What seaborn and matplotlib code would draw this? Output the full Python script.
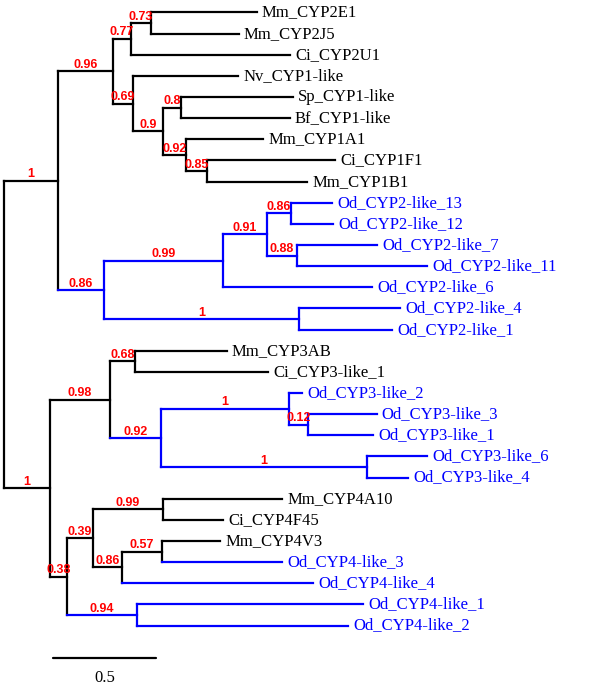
import matplotlib
matplotlib.use("Agg")
import matplotlib.pyplot as plt
import numpy as np
import pandas as pd
import seaborn as sns

# ---------------- tree data (parallel lists, children in drawing order) ----------------
names = [
    "root",
    "nA", "nB", "nC", "nD", "Mm_CYP2E1", "Mm_CYP2J5", "Ci_CYP2U1",
    "nE", "Nv_CYP1-like", "nF", "nFs", "Sp_CYP1-like", "Bf_CYP1-like",
    "nG", "Mm_CYP1A1", "nG2", "Ci_CYP1F1", "Mm_CYP1B1",
    "nH", "nI", "nJ", "nK", "Od_CYP2-like_13", "Od_CYP2-like_12",
    "nL", "Od_CYP2-like_7", "Od_CYP2-like_11", "Od_CYP2-like_6",
    "nM", "Od_CYP2-like_4", "Od_CYP2-like_1",
    "nN", "nO", "nP", "Mm_CYP3AB", "Ci_CYP3-like_1",
    "nQ", "nR", "Od_CYP3-like_2", "nS", "Od_CYP3-like_3", "Od_CYP3-like_1",
    "nT", "Od_CYP3-like_6", "Od_CYP3-like_4",
    "nU", "nV", "nW", "Mm_CYP4A10", "Ci_CYP4F45",
    "nX", "nY", "Mm_CYP4V3", "Od_CYP4-like_3", "Od_CYP4-like_4",
    "nZ", "Od_CYP4-like_1", "Od_CYP4-like_2",
]
parents = [
    None,
    "root", "nA", "nB", "nC", "nD", "nD", "nC",
    "nB", "nE", "nE", "nF", "nFs", "nFs",
    "nF", "nG", "nG", "nG2", "nG2",
    "nA", "nH", "nI", "nJ", "nK", "nK",
    "nJ", "nL", "nL", "nI",
    "nH", "nM", "nM",
    "root", "nN", "nO", "nP", "nP",
    "nO", "nQ", "nR", "nR", "nS", "nS",
    "nQ", "nT", "nT",
    "nN", "nU", "nV", "nW", "nW",
    "nV", "nX", "nY", "nY", "nX",
    "nU", "nZ", "nZ",
]
lengths = [
    0.0,
    0.262, 0.267, 0.087, 0.097, 0.515, 0.427, 0.772,
    0.097, 0.510, 0.146, 0.087, 0.544, 0.529,
    0.112, 0.374, 0.102, 0.621, 0.485,
    0.223, 0.578, 0.214, 0.117, 0.199, 0.204,
    0.146, 0.388, 0.631, 0.723,
    0.947, 0.490, 0.451,
    0.223, 0.291, 0.121, 0.447, 0.646,
    0.248, 0.621, 0.063, 0.092, 0.335, 0.316,
    1.000, 0.291, 0.199,
    0.083, 0.126, 0.340, 0.578, 0.291,
    0.141, 0.194, 0.282, 0.583, 0.927,
    0.340, 1.097, 1.024,
]
supports = [
    None,
    "1", "0.96", "0.77", "0.73", None, None, None,
    "0.69", None, "0.9", "0.8", None, None,
    "0.92", None, "0.85", None, None,
    "0.86", "0.99", "0.91", "0.86", None, None,
    "0.88", None, None, None,
    "1", None, None,
    "1", "0.98", "0.68", None, None,
    "0.92", "1", None, "0.12", None, None,
    "1", None, None,
    "0.38", "0.39", "0.99", None, None,
    "0.86", "0.57", None, None, None,
    "0.94", None, None,
]
scale_length = 0.5
scale_label = "0.5"

# ---------------- layout ----------------
children = {n: [] for n in names}
for n, p in zip(names, parents):
    if p is not None:
        children[p].append(n)
blen = dict(zip(names, lengths))
supp = dict(zip(names, supports))
par = dict(zip(names, parents))

xpos, ypos, group = {}, {}, {}
leaf_counter = [0]


def layout(n, x):
    xpos[n] = x
    if not children[n]:
        ypos[n] = leaf_counter[0]
        leaf_counter[0] += 1
        group[n] = "Od" if n.startswith("Od_") else "other"
        return
    for c in children[n]:
        layout(c, x + blen[c])
    ypos[n] = (ypos[children[n][0]] + ypos[children[n][-1]]) / 2
    group[n] = "Od" if all(group[c] == "Od" for c in children[n]) else "other"


layout("root", 0.0)

rows = []
seg = 0
for n in names:
    if par[n] is not None:
        p = par[n]
        rows.append((seg, xpos[p], ypos[n], group[n]))
        rows.append((seg, xpos[n], ypos[n], group[n]))
        seg += 1
    if children[n]:
        rows.append((seg, xpos[n], ypos[children[n][0]], group[n]))
        rows.append((seg, xpos[n], ypos[children[n][-1]], group[n]))
        seg += 1
segs = pd.DataFrame(rows, columns=["seg", "x", "y", "grp"])

# ---------------- drawing ----------------
sns.set_style("white")
fig = plt.figure(figsize=(6.0, 6.92), dpi=100)
ax = fig.add_axes([0, 0, 1, 1])

sns.lineplot(data=segs, x="x", y="y", units="seg", hue="grp",
             palette={"other": "black", "Od": "blue"}, estimator=None,
             sort=False, legend=False, lw=1.6, solid_capstyle="projecting", ax=ax)

px_per_unit = 206.0
gap = 5.0 / px_per_unit
for n in names:
    if not children[n]:
        ax.text(xpos[n] + gap, ypos[n], n, ha="left", va="center",
                fontsize=12, family="Liberation Serif",
                color="blue" if group[n] == "Od" else "black")
    if supp[n] is not None:
        xm = (xpos[par[n]] + xpos[n]) / 2
        ax.text(xm, ypos[n] - 0.02, supp[n], ha="center", va="bottom",
                fontsize=9, family="Liberation Sans", fontweight="bold",
                color="red")

# scale bar
sb_x0 = 49.0 / px_per_unit
sb_y = 30.53
ax.plot([sb_x0, sb_x0 + scale_length], [sb_y, sb_y], color="black", lw=1.6)
ax.text(sb_x0 + scale_length / 2, 31.5, scale_label, ha="center", va="center",
        fontsize=12, family="Liberation Serif", color="black")

ax.set_xlim(-4.0 / px_per_unit, 596.0 / px_per_unit)
ax.set_ylim(32.14, -0.591)
ax.set_axis_off()

fig.savefig("out.png", dpi=100)
